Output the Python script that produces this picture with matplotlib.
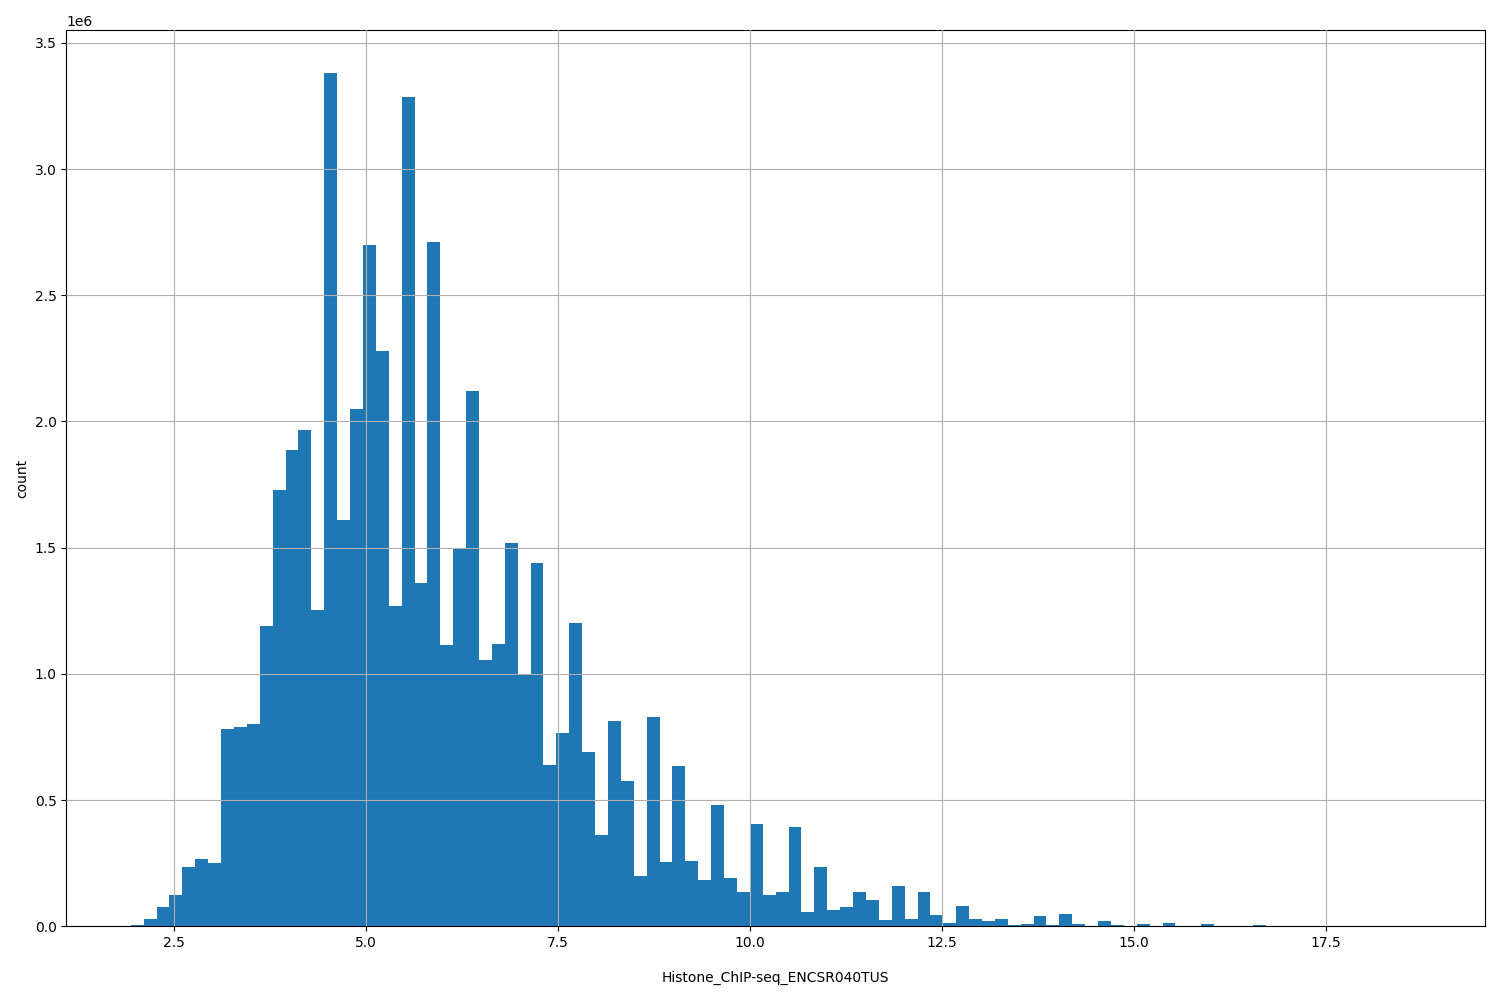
import numpy as np
import matplotlib
matplotlib.use("Agg")
import matplotlib.pyplot as plt

# histogram: 100 bins between these edges
x_min = 1.934
x_max = 18.73
counts_m = [
    0.005, 0.03, 0.075, 0.125, 0.235, 0.265, 0.25, 0.78, 0.79, 0.80,
    1.19, 1.73, 1.885, 1.965, 1.255, 3.38, 1.61, 2.05, 2.70, 2.28,
    1.27, 3.285, 1.36, 2.71, 1.115, 1.50, 2.12, 1.055, 1.12, 1.52,
    1.00, 1.44, 0.64, 0.765, 1.20, 0.69, 0.36, 0.815, 0.575, 0.20,
    0.83, 0.255, 0.635, 0.26, 0.185, 0.48, 0.19, 0.135, 0.405, 0.125,
    0.135, 0.395, 0.055, 0.235, 0.065, 0.075, 0.135, 0.105, 0.025, 0.16,
    0.03, 0.135, 0.045, 0.015, 0.08, 0.03, 0.02, 0.03, 0.005, 0.01,
    0.04, 0.005, 0.05, 0.01, 0.002, 0.02, 0.005, 0.002, 0.008, 0.002,
    0.015, 0.001, 0.001, 0.01, 0.001, 0.001, 0.001, 0.004, 0.001, 0.001,
    0.003, 0.001, 0.001, 0.0005, 0.0005, 0.0005, 0.0005, 0.0005, 0.0005, 0.0005,
]
xlabel = "Histone_ChIP-seq_ENCSR040TUS"

edges = np.linspace(x_min, x_max, len(counts_m) + 1)
counts = np.array(counts_m) * 1e6

fig, ax = plt.subplots(figsize=(15, 10), dpi=100)
ax.bar(edges[:-1], counts, width=np.diff(edges), align="edge", color="#1f77b4")
ax.set_xlim(x_min - 0.05 * (x_max - x_min), x_max + 0.05 * (x_max - x_min))
ax.set_ylim(0, 3.55e6)
ax.grid(True)
ax.set_axisbelow(False)
ax.set_xlabel(xlabel, labelpad=15)
ax.set_ylabel("count")
plt.tight_layout()
plt.savefig("out.png")
